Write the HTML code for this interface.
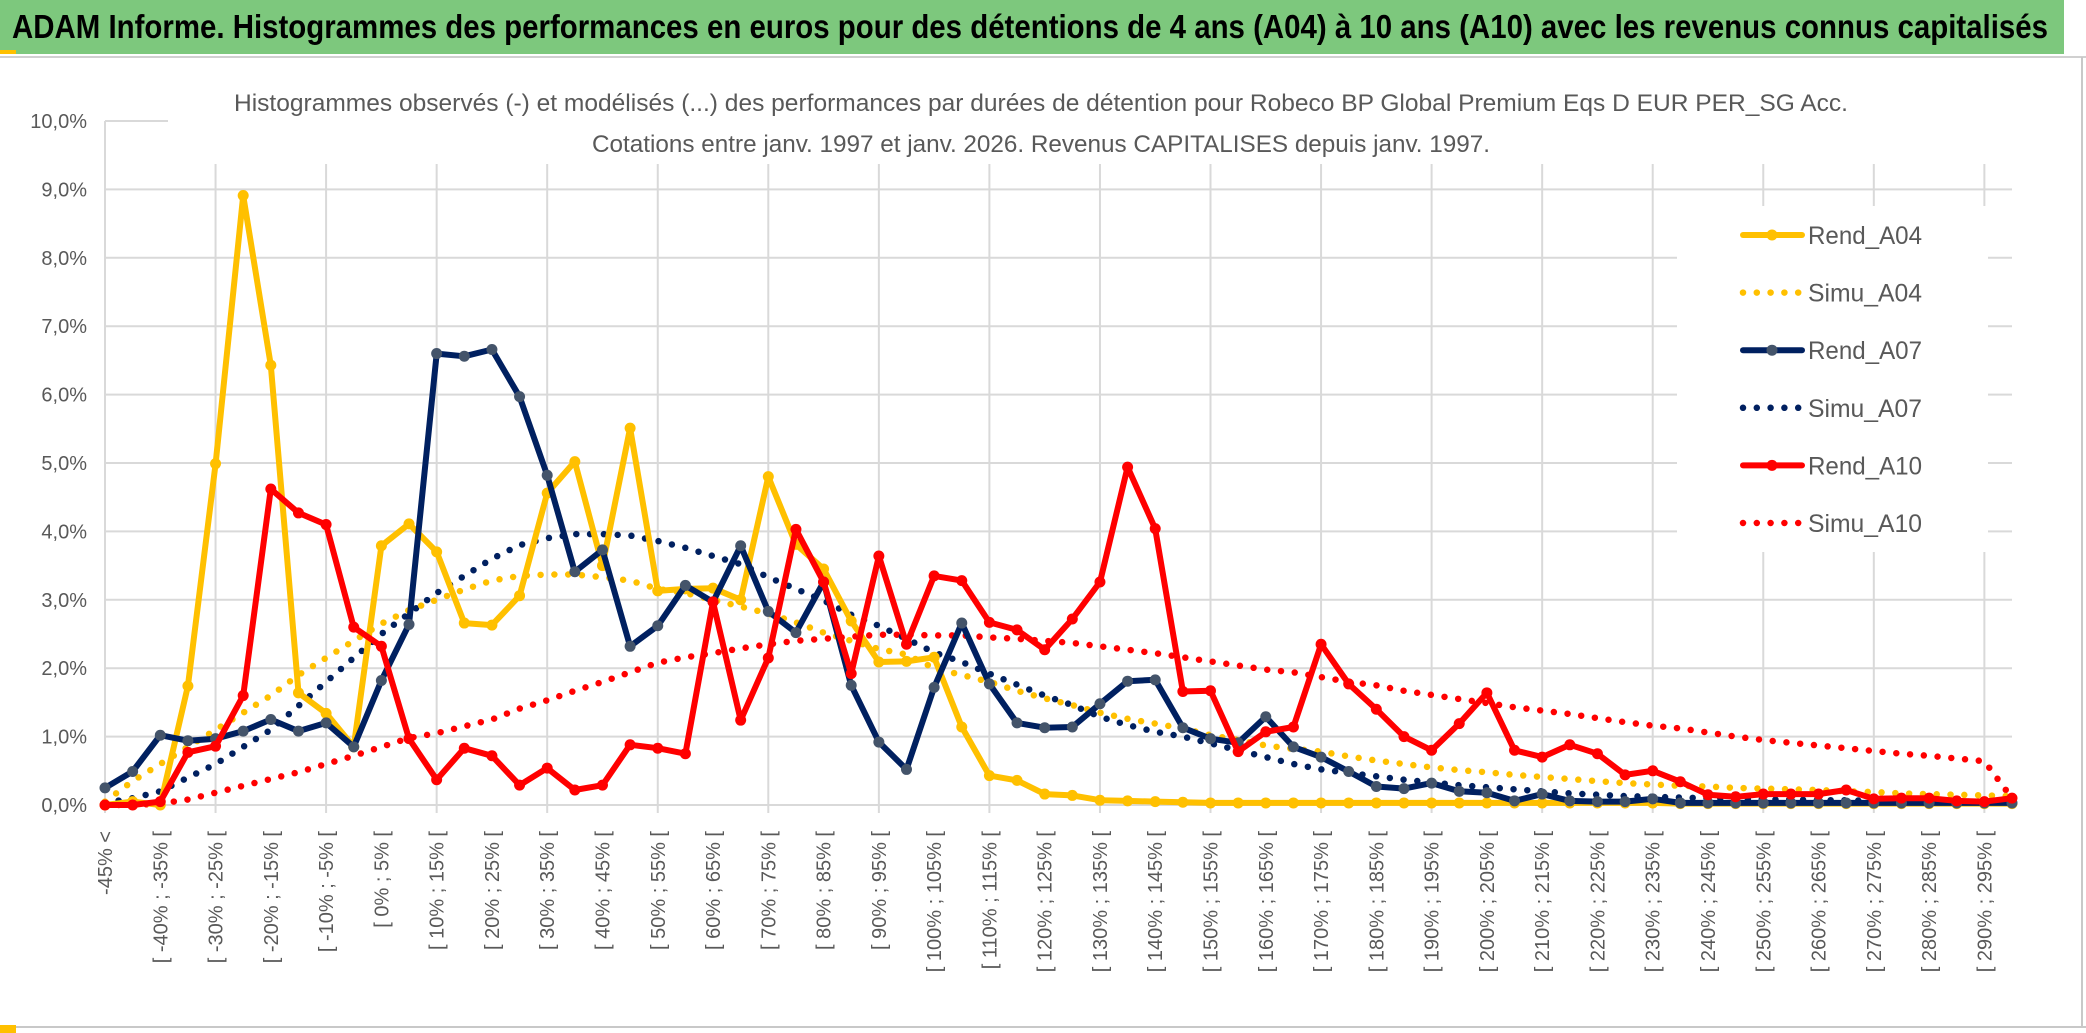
<!DOCTYPE html>
<html><head><meta charset="utf-8">
<style>
html,body{margin:0;padding:0;background:#fff;}
svg{display:block;}
text{font-family:"Liberation Sans",sans-serif;}
</style></head>
<body>
<svg id="chart" width="2086" height="1033" viewBox="0 0 2086 1033" xmlns="http://www.w3.org/2000/svg">
  <rect x="0" y="0" width="2086" height="1033" fill="#fff"/>
  <rect x="0" y="0" width="2064" height="54" fill="#7dc87d"/>
  <rect x="0" y="50" width="16" height="4" fill="#ffc000"/>
  <line x1="0" y1="57" x2="2086" y2="57" stroke="#d0d0d0" stroke-width="2"/>
  <line x1="2082" y1="57" x2="2082" y2="1027" stroke="#c8c8c8" stroke-width="2"/>
  <line x1="0" y1="1027" x2="2086" y2="1027" stroke="#c8c8c8" stroke-width="2"/>
  <rect x="0" y="1025" width="16" height="8" fill="#ffc000"/>
  <text x="12" y="38" font-size="33" font-weight="bold" fill="#000" textLength="2036" lengthAdjust="spacingAndGlyphs">ADAM Informe. Histogrammes des performances en euros pour des détentions de 4 ans (A04) à 10 ans (A10) avec les revenus connus capitalisés</text>
  <g id="grid"></g>
  <rect x="168" y="58" width="1844" height="106" fill="#fff"/>
  <text x="1041" y="111" font-size="24" fill="#595959" text-anchor="middle" textLength="1614" lengthAdjust="spacingAndGlyphs">Histogrammes observés (-) et modélisés (...) des performances par durées de détention pour Robeco BP Global Premium Eqs D EUR PER_SG Acc.</text>
  <text x="1041" y="152" font-size="24" fill="#595959" text-anchor="middle" textLength="898" lengthAdjust="spacingAndGlyphs">Cotations entre janv. 1997 et janv. 2026. Revenus CAPITALISES depuis janv. 1997.</text>
  <g id="yaxis"></g>
  <g id="xaxis"></g>
  <g id="series"></g>
  <rect x="1677" y="206" width="311" height="346" fill="#fff"/>
  <g id="legend"></g>
</svg>
<script>
const rendA04 = [0,0.05,0,1.74,4.99,8.91,6.43,1.64,1.34,0.85,3.79,4.11,3.7,2.66,2.63,3.06,4.56,5.02,3.5,5.51,3.13,3.16,3.17,3.0,4.8,3.81,3.45,2.69,2.09,2.1,2.16,1.14,0.43,0.36,0.16,0.14,0.07,0.06,0.05,0.04,0.03,0.03,0.03,0.03,0.03,0.03,0.03,0.03,0.03,0.03,0.03,0.03,0.03,0.03,0.03,0.03,0.03,0.02,0.02,0.02,0.02,0.02,0.02,0.02,0.02,0.02,0.02,0.02,0.02,0.02];
const simuA04 = [0.05,0.35,0.6,0.85,1.1,1.35,1.6,1.9,2.15,2.4,2.65,2.85,3.0,3.15,3.28,3.35,3.37,3.37,3.33,3.28,3.16,3.1,3.0,2.9,2.8,2.67,2.52,2.4,2.28,2.2,2.0,1.9,1.8,1.67,1.56,1.46,1.35,1.26,1.19,1.12,1.02,0.95,0.87,0.82,0.78,0.71,0.65,0.6,0.55,0.51,0.48,0.44,0.41,0.38,0.35,0.32,0.3,0.28,0.27,0.25,0.24,0.23,0.22,0.2,0.19,0.17,0.16,0.15,0.14,0.13];
const rendA07 = [0.25,0.49,1.02,0.94,0.97,1.08,1.25,1.08,1.2,0.85,1.82,2.64,6.6,6.56,6.66,5.97,4.82,3.41,3.73,2.32,2.62,3.21,2.97,3.79,2.83,2.52,3.26,1.75,0.92,0.52,1.72,2.66,1.77,1.2,1.13,1.14,1.48,1.81,1.83,1.13,0.97,0.91,1.29,0.85,0.7,0.49,0.27,0.24,0.32,0.2,0.18,0.06,0.16,0.06,0.05,0.05,0.09,0.03,0.03,0.03,0.03,0.03,0.03,0.03,0.03,0.03,0.03,0.03,0.03,0.03];
const simuA07 = [0.03,0.1,0.2,0.4,0.6,0.85,1.1,1.45,1.8,2.15,2.5,2.8,3.1,3.35,3.6,3.8,3.9,3.96,3.96,3.94,3.86,3.76,3.64,3.52,3.33,3.16,2.99,2.78,2.62,2.43,2.23,2.09,1.92,1.76,1.6,1.46,1.29,1.17,1.07,1.0,0.9,0.8,0.7,0.6,0.52,0.47,0.42,0.37,0.33,0.29,0.26,0.23,0.2,0.17,0.15,0.13,0.12,0.11,0.1,0.09,0.08,0.08,0.07,0.07,0.06,0.06,0.05,0.05,0.05,0.05];
const rendA10 = [0,0,0.05,0.77,0.86,1.6,4.62,4.27,4.1,2.6,2.32,0.97,0.37,0.83,0.72,0.29,0.54,0.22,0.29,0.88,0.83,0.75,2.97,1.24,2.15,4.03,3.26,1.92,3.64,2.35,3.35,3.28,2.67,2.56,2.27,2.72,3.26,4.94,4.04,1.66,1.67,0.78,1.07,1.14,2.35,1.77,1.4,1.0,0.8,1.19,1.64,0.8,0.7,0.88,0.75,0.44,0.5,0.34,0.15,0.12,0.16,0.16,0.16,0.22,0.09,0.1,0.1,0.06,0.05,0.1];
const simuA10 = [0.0,0.0,0.02,0.08,0.18,0.28,0.38,0.48,0.6,0.72,0.85,0.98,1.05,1.15,1.25,1.41,1.53,1.67,1.8,1.94,2.08,2.16,2.22,2.29,2.35,2.4,2.43,2.46,2.49,2.49,2.48,2.48,2.45,2.43,2.4,2.37,2.32,2.27,2.22,2.16,2.1,2.04,1.98,1.94,1.87,1.8,1.75,1.67,1.61,1.55,1.49,1.43,1.38,1.33,1.27,1.21,1.16,1.12,1.06,1.0,0.95,0.91,0.87,0.83,0.79,0.75,0.72,0.68,0.64,0.1];
const yTicks = [0,1,2,3,4,5,6,7,8,9,10];
const yTickLabels = ["0,0%","1,0%","2,0%","3,0%","4,0%","5,0%","6,0%","7,0%","8,0%","9,0%","10,0%"];

const NS = "http://www.w3.org/2000/svg";
const X0 = 105, X1 = 2012, Y0 = 805, YTOP = 121, NCAT = rendA04.length;
function xPos(i){ return X0 + i * (X1 - X0) / (NCAT - 1); }
function yPos(v){ return Y0 - v * (Y0 - YTOP) / 10; }
function mk(tag, attrs, parent){ const e = document.createElementNS(NS, tag); for (const k in attrs) e.setAttribute(k, attrs[k]); parent.appendChild(e); return e; }

const categories = [];
for (let i = 0; i < NCAT; i++) {
  if (i === 0) categories.push("-45% <");
  else { const a = -45 + (i - 1) * 5; categories.push("[ " + a + "% ; " + (a + 5) + "% ["); }
}

const grid = document.getElementById("grid");
yTicks.forEach(function(t){
  const l = mk("line", {x1: X0, x2: X1, y1: yPos(t), y2: yPos(t), stroke: "#d9d9d9", "stroke-width": 2}, grid);
  
  
});
for (let i = 0; i < NCAT; i += 4) {
  const l = mk("line", {x1: xPos(i), x2: xPos(i), y1: YTOP, y2: Y0 + 8, stroke: "#d9d9d9", "stroke-width": 2}, grid);
  
  
}

const yaxis = document.getElementById("yaxis");
yTicks.forEach(function(t, k){
  const tx = mk("text", {x: 87, y: yPos(t) + 7, "font-size": 20, fill: "#595959", "text-anchor": "end"}, yaxis);
  tx.textContent = yTickLabels[k];
  
  
});

const xaxis = document.getElementById("xaxis");
for (let i = 0; i < NCAT; i += 2) {
  const x = xPos(i) + 7, y = 831;
  const tx = mk("text", {x: x, y: y, "font-size": 20, fill: "#595959", "text-anchor": "end", transform: "rotate(-90 " + x + " " + y + ")"}, xaxis);
  tx.textContent = categories[i];
  
  
}

const series = document.getElementById("series");
function pts(arr){ return arr.map(function(v, i){ return xPos(i).toFixed(1) + "," + yPos(v).toFixed(1); }).join(" "); }
function dotted(arr, color, name){
  const p = mk("polyline", {points: pts(arr), fill: "none", stroke: color, "stroke-width": 6.5, "stroke-linecap": "round", "stroke-dasharray": "0 13.8"}, series);
  
  
}
function solid(arr, color, mcolor, name){
  const g = mk("g", {}, series);
  
  
  mk("polyline", {points: pts(arr), fill: "none", stroke: color, "stroke-width": 6, "stroke-linejoin": "round"}, g);
  arr.forEach(function(v, i){
    const c = mk("circle", {cx: xPos(i), cy: yPos(v), r: 5.5, fill: mcolor}, g);
    
    
  });
}
dotted(simuA10, "#ff0000", "simu-a10-line");
dotted(simuA07, "#002060", "simu-a07-line");
dotted(simuA04, "#ffc000", "simu-a04-line");
solid(rendA04, "#ffc000", "#ffc000", "rend-a04-line");
solid(rendA07, "#002060", "#44546a", "rend-a07-line");
solid(rendA10, "#ff0000", "#ff0000", "rend-a10-line");

const legendNames = ["Rend_A04","Simu_A04","Rend_A07","Simu_A07","Rend_A10","Simu_A10"];
const legendColors = ["#ffc000","#ffc000","#002060","#002060","#ff0000","#ff0000"];
const legendMarkers = ["#ffc000","#ffc000","#44546a","#002060","#ff0000","#ff0000"];
const legend = document.getElementById("legend");
legendNames.forEach(function(n, k){
  const y = 235 + k * 57.6;
  const g = mk("g", {}, legend);
  
  
  if (k % 2 === 0) {
    mk("line", {x1: 1743, x2: 1802, y1: y, y2: y, stroke: legendColors[k], "stroke-width": 6, "stroke-linecap": "round"}, g);
    mk("circle", {cx: 1772, cy: y, r: 5.5, fill: legendMarkers[k]}, g);
  } else {
    mk("line", {x1: 1743, x2: 1800, y1: y, y2: y, stroke: legendColors[k], "stroke-width": 6.5, "stroke-linecap": "round", "stroke-dasharray": "0 13.8"}, g);
  }
  const t = mk("text", {x: 1808, y: y + 9, "font-size": 25, fill: "#595959", textLength: 114, lengthAdjust: "spacingAndGlyphs"}, g);
  t.textContent = n;
});
</script>
</body></html>
